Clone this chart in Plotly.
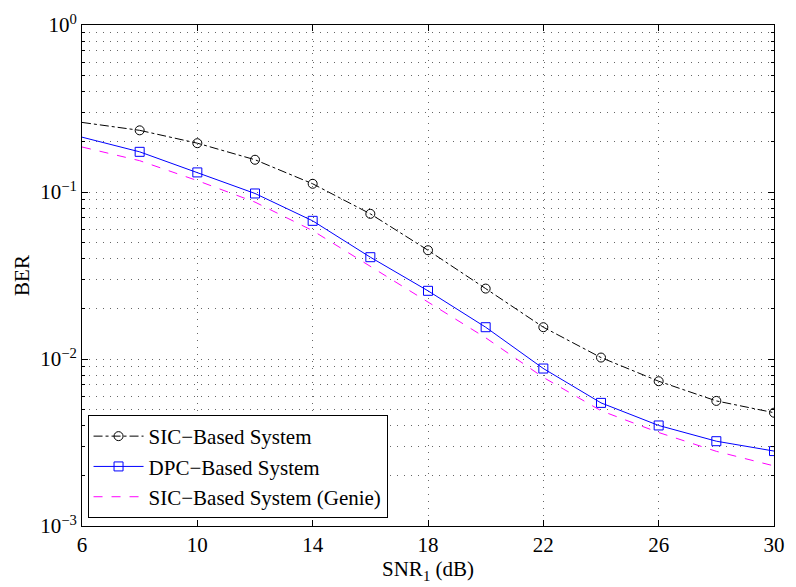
import plotly.graph_objects as go

snr = [6, 8, 10, 12, 14, 16, 18, 20, 22, 24, 26, 28, 30]
ber_sic = [0.261, 0.234, 0.196, 0.156, 0.112, 0.074, 0.0448, 0.0264, 0.0155, 0.0102, 0.00736, 0.00561, 0.00477]
ber_dpc = [0.213, 0.174, 0.131, 0.098, 0.0672, 0.0407, 0.0256, 0.0155, 0.00877, 0.00546, 0.0040, 0.00322, 0.00281]
ber_genie = [0.186, 0.154, 0.117, 0.087, 0.0587, 0.036, 0.0221, 0.0134, 0.00776, 0.0049, 0.00363, 0.0028, 0.00229]

x_ticks = [6, 10, 14, 18, 22, 26, 30]
y_ticks = [1e-3, 1e-2, 1e-1, 1]
y_ticktext = ["10<sup>−3</sup>", "10<sup>−2</sup>", "10<sup>−1</sup>", "10<sup>0</sup>"]
y_minor = [m * 10.0 ** e for e in (-3, -2, -1) for m in range(2, 10)]

FONT = "Liberation Serif, Times New Roman, serif"
FS = 21
GRID = "#666666"
DOT = "1px,6px"

fig = go.Figure()

# line segments before the first marker (no legend)
fig.add_trace(go.Scatter(x=snr[:2], y=ber_sic[:2], mode="lines", showlegend=False,
                         line=dict(color="black", width=1, dash="dashdot"), hoverinfo="skip"))
fig.add_trace(go.Scatter(x=snr[:2], y=ber_dpc[:2], mode="lines", showlegend=False,
                         line=dict(color="#0000ff", width=1), hoverinfo="skip"))

fig.add_trace(go.Scatter(x=snr[1:], y=ber_sic[1:], mode="lines+markers", name="SIC−Based System",
                         line=dict(color="black", width=1, dash="dashdot"),
                         marker=dict(symbol="circle-open", size=9, color="black", line=dict(width=1))))
fig.add_trace(go.Scatter(x=snr[1:], y=ber_dpc[1:], mode="lines+markers", name="DPC−Based System",
                         line=dict(color="#0000ff", width=1),
                         marker=dict(symbol="square-open", size=9, color="#0000ff", line=dict(width=1))))
fig.add_trace(go.Scatter(x=snr, y=ber_genie, mode="lines", name="SIC−Based System (Genie)",
                         line=dict(color="#ff00ff", width=1, dash="dash")))

fig.update_layout(
    width=796, height=587,
    margin=dict(l=82, r=11, t=19, b=59),
    paper_bgcolor="white", plot_bgcolor="white",
    font=dict(family=FONT, size=FS, color="black"),
    showlegend=True,
    legend=dict(x=0.008, y=0.016, xanchor="left", yanchor="bottom",
                bgcolor="white", bordercolor="black", borderwidth=1,
                font=dict(family=FONT, size=FS), tracegroupgap=0, itemwidth=50),
)

fig.update_xaxes(
    range=[6, 30], tickvals=x_ticks, ticks="inside", ticklen=6, tickcolor="black",
    showline=True, linecolor="black", linewidth=1, mirror="ticks",
    showgrid=True, gridcolor=GRID, griddash=DOT, gridwidth=1,
    zeroline=False,
    title=dict(text="SNR<sub>1</sub> (dB)", font=dict(family=FONT, size=FS), standoff=4),
    tickfont=dict(family=FONT, size=FS),
)
fig.update_yaxes(
    type="log", range=[-3, 0], tickvals=y_ticks, ticktext=y_ticktext,
    ticks="inside", ticklen=6, tickcolor="black",
    showline=True, linecolor="black", linewidth=1, mirror="ticks",
    showgrid=True, gridcolor=GRID, griddash=DOT, gridwidth=1,
    minor=dict(tickvals=y_minor, ticks="inside", ticklen=3, tickcolor="black",
               showgrid=True, gridcolor=GRID, griddash=DOT, gridwidth=1),
    zeroline=False,
    title=dict(text="BER", font=dict(family=FONT, size=FS), standoff=4),
    tickfont=dict(family=FONT, size=FS),
)

fig.write_html("out.html")
